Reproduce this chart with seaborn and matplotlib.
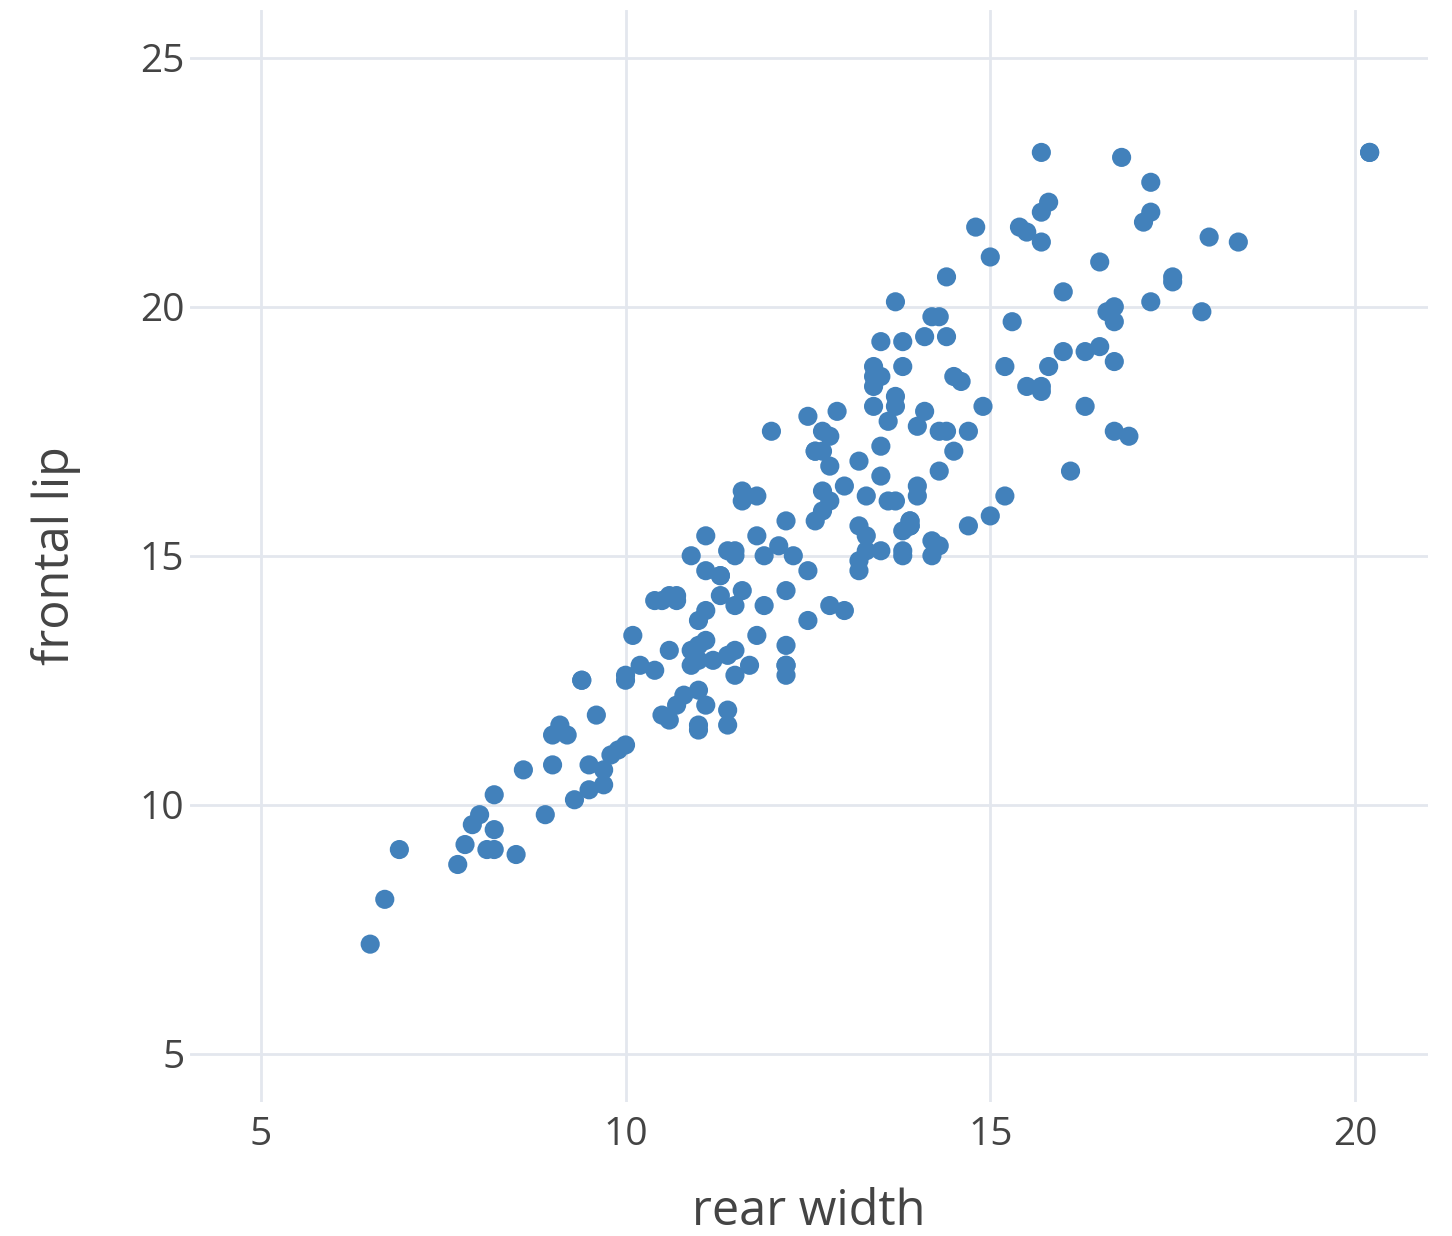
import pandas as pd
import seaborn as sns
import matplotlib.pyplot as plt

# crab measurements: frontal lip vs rear width
rear_width = [
    6.7, 7.7, 7.8, 7.9, 8.0, 9.0, 9.9, 9.1, 9.6, 10.5,
    10.8, 11.0, 10.0, 10.2, 10.9, 11.0, 10.6, 10.9, 11.1, 11.1,
    11.6, 11.3, 10.9, 11.5, 11.9, 12.1, 11.8, 12.6, 12.7, 11.6,
    12.8, 13.3, 12.7, 13.0, 13.5, 12.8, 13.2, 12.6, 12.7, 13.5,
    13.6, 14.1, 13.7, 15.8, 13.5, 13.8, 15.3, 14.2, 14.3, 15.7,
    6.5, 8.5, 8.1, 8.2, 8.2, 8.9, 9.3, 9.5, 9.7, 9.5,
    9.8, 10.0, 11.0, 11.0, 11.4, 10.6, 11.4, 10.7, 11.1, 12.2,
    11.7, 12.2, 12.2, 11.4, 11.5, 12.2, 11.8, 12.5, 13.0, 12.5,
    13.2, 13.8, 14.2, 13.3, 13.5, 13.8, 14.3, 14.2, 13.3, 13.8,
    13.9, 14.7, 13.9, 15.0, 15.2, 14.0, 16.1, 16.9, 16.7, 16.5,
    6.9, 8.2, 8.6, 9.0, 9.4, 9.4, 10.4, 11.0, 10.1, 11.0,
    11.5, 10.4, 10.5, 10.7, 10.6, 10.7, 11.3, 11.3, 11.1, 11.4,
    11.5, 11.1, 12.2, 11.8, 11.6, 12.6, 12.8, 12.0, 12.7, 12.5,
    12.9, 13.4, 13.7, 13.4, 13.4, 13.5, 13.4, 13.8, 14.1, 14.4,
    13.7, 14.4, 15.0, 15.5, 15.4, 14.8, 15.7, 15.8, 16.8, 15.7,
    9.7, 9.2, 10.0, 11.5, 11.2, 11.9, 12.8, 12.2, 13.2, 12.3,
    13.2, 13.9, 13.9, 13.9, 13.6, 13.7, 14.0, 14.3, 14.5, 14.3,
    14.4, 14.7, 14.0, 14.9, 16.3, 15.7, 15.5, 15.7, 14.6, 14.5,
    15.2, 16.7, 16.0, 16.3, 16.7, 16.6, 17.9, 16.7, 17.2, 16.0,
    17.5, 17.5, 16.5, 18.4, 18.0, 17.1, 17.2, 17.2, 20.2, 20.2,
]
frontal_lip = [
    8.1, 8.8, 9.2, 9.6, 9.8, 10.8, 11.1, 11.6, 11.8, 11.8,
    12.2, 12.3, 12.6, 12.8, 12.8, 12.9, 13.1, 13.1, 13.3, 13.9,
    14.3, 14.6, 15.0, 15.0, 15.0, 15.2, 15.4, 15.7, 15.9, 16.1,
    16.1, 16.2, 16.3, 16.4, 16.6, 16.8, 16.9, 17.1, 17.1, 17.2,
    17.7, 17.9, 18.0, 18.8, 19.3, 19.3, 19.7, 19.8, 19.8, 21.3,
    7.2, 9.0, 9.1, 9.1, 9.5, 9.8, 10.1, 10.3, 10.4, 10.8,
    11.0, 11.2, 11.5, 11.6, 11.6, 11.7, 11.9, 12.0, 12.0, 12.6,
    12.8, 12.8, 12.8, 13.0, 13.1, 13.2, 13.4, 13.7, 13.9, 14.7,
    14.9, 15.0, 15.0, 15.1, 15.1, 15.1, 15.2, 15.3, 15.4, 15.5,
    15.6, 15.6, 15.7, 15.8, 16.2, 16.4, 16.7, 17.4, 17.5, 19.2,
    9.1, 10.2, 10.7, 11.4, 12.5, 12.5, 12.7, 13.2, 13.4, 13.7,
    14.0, 14.1, 14.1, 14.1, 14.2, 14.2, 14.2, 14.6, 14.7, 15.1,
    15.1, 15.4, 15.7, 16.2, 16.3, 17.1, 17.4, 17.5, 17.5, 17.8,
    17.9, 18.0, 18.2, 18.4, 18.6, 18.6, 18.8, 18.8, 19.4, 19.4,
    20.1, 20.6, 21.0, 21.5, 21.6, 21.6, 21.9, 22.1, 23.0, 23.1,
    10.7, 11.4, 12.5, 12.6, 12.9, 14.0, 14.0, 14.3, 14.7, 15.0,
    15.6, 15.6, 15.6, 15.7, 16.1, 16.1, 16.2, 16.7, 17.1, 17.5,
    17.5, 17.5, 17.6, 18.0, 18.0, 18.3, 18.4, 18.4, 18.5, 18.6,
    18.8, 18.9, 19.1, 19.1, 19.7, 19.9, 19.9, 20.0, 20.1, 20.3,
    20.5, 20.6, 20.9, 21.3, 21.4, 21.7, 21.9, 22.5, 23.1, 23.1,
]

df = pd.DataFrame({'rear width': rear_width, 'frontal lip': frontal_lip})

sns.set_style('white')
plt.rcParams['font.family'] = ['Open Sans', 'DejaVu Sans']

fig = plt.figure(figsize=(14.52, 12.36), dpi=100)
ax = fig.add_axes([190 / 1452, 1 - 1102 / 1236, 1238 / 1452, 1092 / 1236])

sns.scatterplot(data=df, x='rear width', y='frontal lip', ax=ax,
                color='#4281bb', s=190, edgecolor='none', alpha=1, zorder=3)

ax.set_xlim(4.03, 21.0)
ax.set_ylim(4.03, 25.96)
ax.set_xticks([5, 10, 15, 20])
ax.set_yticks([5, 10, 15, 20, 25])
ax.grid(True, color='#e3e7ee', linewidth=2)
for sp in ax.spines.values():
    sp.set_visible(False)
ax.tick_params(axis='both', length=0, labelsize=28, colors='#444444')
ax.tick_params(axis='x', pad=10)
ax.tick_params(axis='y', pad=4)
ax.set_xlabel('rear width', fontsize=35, color='#444444', labelpad=24)
ax.set_ylabel('frontal lip', fontsize=35, color='#444444', labelpad=42)

fig.savefig('out.png', dpi=100)
